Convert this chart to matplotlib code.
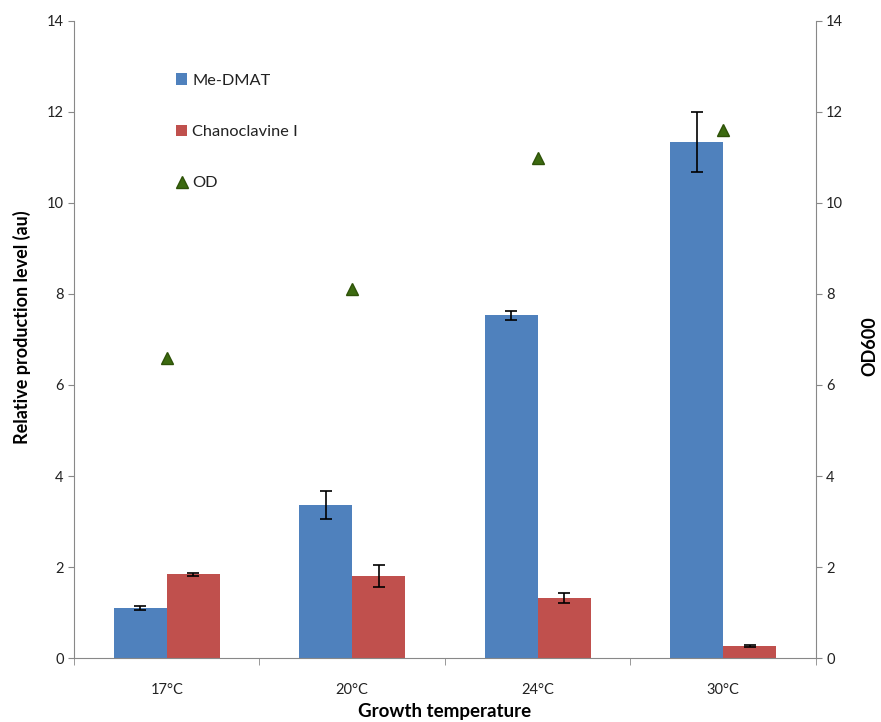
import matplotlib
matplotlib.use("Agg")
import matplotlib.pyplot as plt
import numpy as np
from matplotlib.lines import Line2D
from matplotlib.patches import Patch

categories = ["17°C", "20°C", "24°C", "30°C"]
me_dmat = [1.10, 3.36, 7.53, 11.34]
me_dmat_err = [0.05, 0.30, 0.10, 0.65]
chanoclavine = [1.84, 1.80, 1.32, 0.26]
chanoclavine_err = [0.03, 0.25, 0.10, 0.02]
od600 = [6.60, 8.12, 10.98, 11.60]

plt.rcParams['font.family'] = ['Lato', 'DejaVu Sans']

fig = plt.figure(figsize=(8.81, 7.22), dpi=100)
ax = fig.add_axes([0.084, 0.0886, 0.842, 0.8824])
ax2 = ax.twinx()

x = np.arange(len(categories))
w = 0.286
blue = '#4F81BD'
red = '#C0504D'
green = '#3C6A10'

ax.bar(x - w/2, me_dmat, w, color=blue, zorder=2)
ax.bar(x + w/2, chanoclavine, w, color=red, zorder=2)
ax.errorbar(x - w/2, me_dmat, yerr=me_dmat_err, fmt='none', ecolor='black',
            elinewidth=1.2, capsize=4, capthick=1.2, zorder=3)
ax.errorbar(x + w/2, chanoclavine, yerr=chanoclavine_err, fmt='none', ecolor='black',
            elinewidth=1.2, capsize=4, capthick=1.2, zorder=3)
ax2.plot(x, od600, linestyle='none', marker='^', markersize=9, color=green,
         markeredgecolor='#2E5208', zorder=4)

for a in (ax, ax2):
    a.set_ylim(0, 14)
    a.set_yticks(np.arange(0, 15, 2))
    a.spines['top'].set_visible(False)
    for s in a.spines.values():
        s.set_color('#888888')
    a.tick_params(axis='y', colors='#888888', labelcolor='#222222', labelsize=10.5, length=4)
ax.spines['right'].set_visible(False)
ax2.spines['left'].set_visible(False)
ax2.spines['bottom'].set_visible(False)

ax.set_xlim(-0.5, len(categories) - 0.5)
ax.set_xticks(x)
ax.set_xticklabels(categories, fontsize=10.5, color='#222222')
ax.tick_params(axis='x', length=0, pad=18)
ax.set_xticks(np.arange(-0.5, len(categories) + 0.5, 1), minor=True)
ax.tick_params(axis='x', which='minor', length=5, colors='#888888')

ax.set_ylabel("Relative production level (au)", fontsize=13, fontweight='bold')
ax.yaxis.set_label_coords(-0.058, 0.52)
ax2.set_ylabel("OD600", fontsize=13, fontweight='bold')
ax2.yaxis.set_label_coords(1.062, 0.49)
ax.set_xlabel("Growth temperature", fontsize=13.5, fontweight='bold')
ax.xaxis.set_label_coords(0.5, -0.071)

handles = [
    Patch(facecolor=blue, edgecolor='none'),
    Patch(facecolor=red, edgecolor='none'),
    Line2D([], [], linestyle='none', marker='^', markersize=8, color=green, markeredgecolor='#2E5208'),
]
leg = fig.legend(handles, ["Me-DMAT", "Chanoclavine I", "OD"], loc='upper left',
                 bbox_to_anchor=(0.183, 0.919), frameon=False, fontsize=11.8,
                 labelspacing=2.25, handlelength=0.7, handleheight=0.7, handletextpad=0.3)
for t in leg.get_texts():
    t.set_color('#222222')

fig.savefig("out.png", dpi=100, facecolor='white')
